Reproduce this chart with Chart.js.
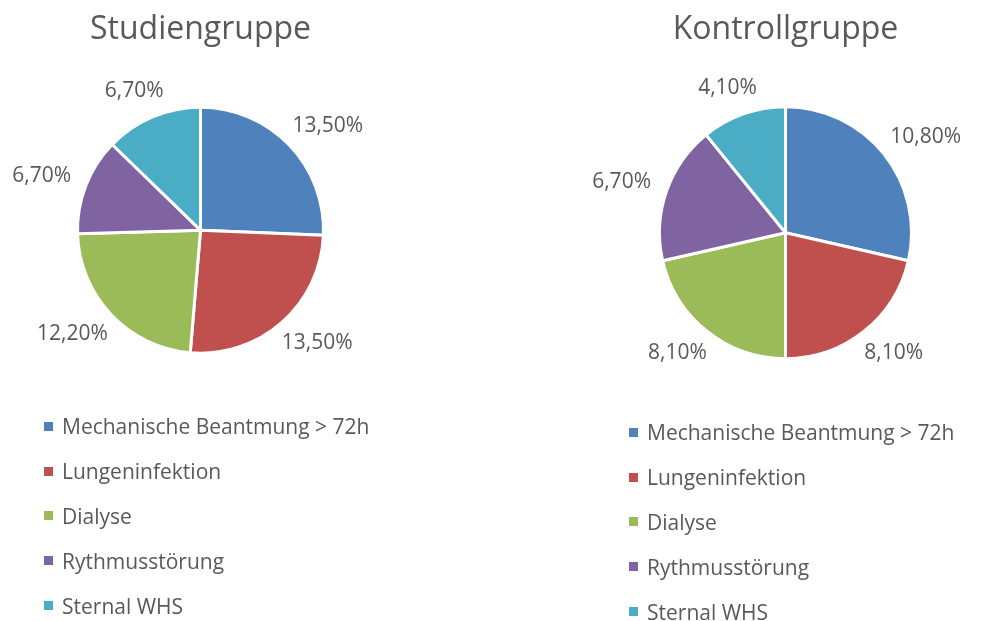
<!DOCTYPE html>
<html>
<head>
<meta charset="utf-8">
<script src="https://cdn.jsdelivr.net/npm/chart.js@4/dist/chart.umd.min.js"></script>
<style>
  body { margin: 0; background: #fff; font-family: 'Open Sans', sans-serif; color: #595959; }
  #page { position: relative; width: 994px; height: 621px; overflow: hidden; }
  .chart-box { position: absolute; top: 0; width: 497px; height: 416px; }
  .legend { position: absolute; margin: 0; padding: 0; list-style: none; font-size: 21px; }
  .legend li { height: 44.8px; display: flex; align-items: center; white-space: nowrap; }
  .legend .swatch { width: 9px; height: 9px; margin-right: 9px; flex: none; }
</style>
</head>
<body>
<div id="page">
  <div class="chart-box" style="left:0"><canvas id="studyChart"></canvas></div>
  <div class="chart-box" style="left:497px"><canvas id="controlChart"></canvas></div>
  <ul class="legend" id="studyLegend" style="left:44px; top:404px"></ul>
  <ul class="legend" id="controlLegend" style="left:629px; top:410px"></ul>
</div>
<script>
// Chart data
const categories = ['Mechanische Beantmung > 72h', 'Lungeninfektion', 'Dialyse', 'Rythmusstörung', 'Sternal WHS'];
const studyValues = [13.5, 13.5, 12.2, 6.7, 6.7];
const controlValues = [10.8, 8.1, 8.1, 6.7, 4.1];
const sliceColors = ['#4F81BD', '#C0504D', '#9BBB59', '#8064A2', '#4BACC6'];

const textColor = '#595959';
const fontFamily = "'Open Sans', sans-serif";

// Format like Excel with German decimal comma
const formatPercent = v => v.toFixed(2).replace('.', ',') + '%';

// Draw value labels just outside each slice
const outsideLabels = {
  id: 'outsideLabels',
  afterDatasetsDraw(chart) {
    const ctx = chart.ctx;
    const meta = chart.getDatasetMeta(0);
    const values = chart.data.datasets[0].data;
    ctx.save();
    ctx.font = `21px ${fontFamily}`;
    ctx.fillStyle = textColor;
    ctx.textAlign = 'center';
    ctx.textBaseline = 'middle';
    meta.data.forEach((arc, i) => {
      const {x, y, startAngle, endAngle, outerRadius} = arc.getProps(['x', 'y', 'startAngle', 'endAngle', 'outerRadius'], true);
      const mid = (startAngle + endAngle) / 2;
      const dx = Math.cos(mid);
      const dy = Math.sin(mid);
      const text = formatPercent(values[i]);
      const w = ctx.measureText(text).width;
      const h = 20;
      const ax = x + dx * (outerRadius + 18);
      const ay = y + dy * (outerRadius + 18);
      ctx.fillText(text, ax + dx * w / 2, ay + dy * h / 2);
    });
    ctx.restore();
  }
};

const makePie = (canvasId, title, values, radius, padding) => new Chart(document.getElementById(canvasId), {
  type: 'pie',
  data: {
    labels: categories,
    datasets: [{
      data: values,
      backgroundColor: sliceColors,
      borderColor: '#ffffff',
      borderWidth: 3,
    }],
  },
  options: {
    responsive: true,
    maintainAspectRatio: false,
    animation: false,
    radius: radius,
    layout: { padding: padding },
    plugins: {
      title: {
        display: true,
        text: title,
        color: textColor,
        font: { family: fontFamily, size: 32, weight: 'normal' },
        padding: { top: 11, bottom: 0 },
      },
      legend: { display: false },
      tooltip: { enabled: false },
    },
  },
  plugins: [outsideLabels],
});

// Build the vertical legend below each pie
const buildLegend = (chart, listId) => {
  const list = document.getElementById(listId);
  const items = chart.options.plugins.legend.labels.generateLabels(chart);
  items.forEach(item => {
    const li = document.createElement('li');
    const box = document.createElement('span');
    box.className = 'swatch';
    box.style.background = item.fillStyle;
    li.appendChild(box);
    li.appendChild(document.createTextNode(item.text));
    list.appendChild(li);
  });
};

const studyChart = makePie('studyChart', 'Studiengruppe', studyValues, 123, { left: 0, right: 96, bottom: 5 });
const controlChart = makePie('controlChart', 'Kontrollgruppe', controlValues, 126, { left: 80, right: 0, bottom: 0 });

buildLegend(studyChart, 'studyLegend');
buildLegend(controlChart, 'controlLegend');
</script>
</body>
</html>
